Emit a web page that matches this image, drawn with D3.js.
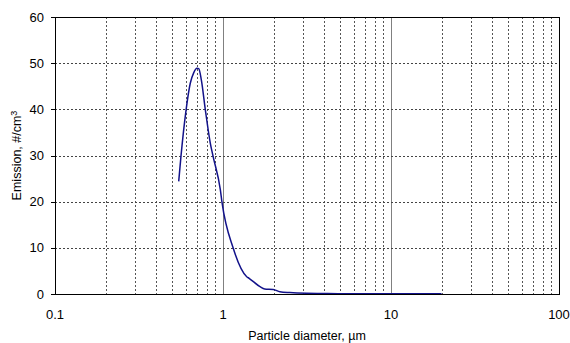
<!DOCTYPE html>
<html lang="en">
<head>
    <meta charset="UTF-8">
    <title>Emission vs particle diameter</title>
    <script src="https://d3js.org/d3.v7.min.js"></script>
    <style>
        body { margin: 0; background: #fff; }
        text { font-family: "Liberation Sans", Arial, sans-serif; fill: #000; }
        .tick-label { font-size: 13px; }
        .axis-title { font-size: 12.5px; }
    </style>
</head>
<body>
<div id="chart"></div>
<script>
    // data
    const diameter = [0.545, 0.562, 0.603, 0.639, 0.669, 0.70, 0.717, 0.743, 0.785, 0.840, 0.873, 0.964, 0.986,
        1.151, 1.384, 1.43, 1.66, 1.77, 1.99, 2.18, 2.50, 3.15, 4.2, 6.0, 10, 20];
    const emission = [24.4, 29.8, 39.9, 45.7, 47.9, 48.9, 48.8, 46.4, 39.9, 32.7, 29.8, 22.6, 19.9,
        9.9, 3.75, 3.4, 1.6, 1.1, 1.0, 0.5, 0.3, 0.15, 0.1, 0.06, 0.05, 0.05];
    const yTicks = [0, 10, 20, 30, 40, 50, 60];
    const xTicks = [0.1, 1, 10, 100];

    const W = 570, H = 343;
    const margin = { top: 17, right: 11, bottom: 49, left: 55 };
    const width = W - margin.left - margin.right;
    const height = H - margin.top - margin.bottom;

    const svg = d3.select("#chart").append("svg")
        .attr("width", W).attr("height", H);
    const g = svg.append("g").attr("transform", `translate(${margin.left},${margin.top})`);

    const x = d3.scaleLog().domain([0.1, 100]).range([0, width]);
    const y = d3.scaleLinear().domain([0, 60]).range([height, 0]);

    // minor vertical grid (dashed)
    const minor = [];
    for (let dec = 0.1; dec < 100; dec *= 10) {
        for (let k = 2; k <= 9; k++) minor.push(+(dec * k).toPrecision(3));
    }
    g.selectAll(".vminor").data(minor).enter().append("line")
        .attr("x1", d => Math.round(x(d)) + 0.5).attr("x2", d => Math.round(x(d)) + 0.5)
        .attr("y1", 0).attr("y2", height)
        .attr("stroke", "#555").attr("stroke-width", 1)
        .attr("stroke-dasharray", "2,2");

    // major vertical grid (solid grey)
    g.selectAll(".vmajor").data([1, 10]).enter().append("line")
        .attr("x1", d => Math.round(x(d)) + 0.5).attr("x2", d => Math.round(x(d)) + 0.5)
        .attr("y1", 0).attr("y2", height)
        .attr("stroke", "#808080").attr("stroke-width", 1);

    // horizontal grid
    g.selectAll(".hgrid").data(yTicks.slice(1, -1)).enter().append("line")
        .attr("x1", 0).attr("x2", width)
        .attr("y1", d => Math.round(y(d)) + 0.5).attr("y2", d => Math.round(y(d)) + 0.5)
        .attr("stroke", "#444").attr("stroke-width", 1)
        .attr("stroke-dasharray", "2,2");

    // curve
    const pts = diameter.map((d, i) => [d, emission[i]]);
    g.append("path")
        .datum(pts)
        .attr("fill", "none")
        .attr("stroke", "#12128a")
        .attr("stroke-width", 1.5)
        .attr("d", d3.line().x(d => x(d[0])).y(d => y(d[1])).curve(d3.curveMonotoneX));

    // frame
    g.append("rect")
        .attr("x", 0.5).attr("y", 0.5)
        .attr("width", width).attr("height", height)
        .attr("fill", "none").attr("stroke", "#000").attr("stroke-width", 1);

    // y ticks
    g.selectAll(".ytick").data(yTicks).enter().append("line")
        .attr("x1", -4).attr("x2", 0)
        .attr("y1", d => Math.round(y(d)) + 0.5).attr("y2", d => Math.round(y(d)) + 0.5)
        .attr("stroke", "#000");
    g.selectAll(".ylab").data(yTicks).enter().append("text")
        .attr("class", "tick-label")
        .attr("x", -11).attr("y", d => y(d)).attr("dy", "0.35em")
        .attr("text-anchor", "end")
        .text(d => d);

    // x labels
    g.selectAll(".xlab").data(xTicks).enter().append("text")
        .attr("class", "tick-label")
        .attr("x", d => x(d)).attr("y", height + 25)
        .attr("text-anchor", "middle")
        .text(d => d);

    // axis titles
    g.append("text")
        .attr("class", "axis-title")
        .attr("x", width / 2).attr("y", height + 46)
        .attr("text-anchor", "middle")
        .text("Particle diameter, \u00b5m");

    const yt = g.append("text")
        .attr("class", "axis-title")
        .attr("transform", `translate(${-34},${height / 2}) rotate(-90)`)
        .attr("text-anchor", "middle");
    yt.append("tspan").text("Emission, #/cm");
    yt.append("tspan").attr("dy", "-0.45em").style("font-size", "9px").text("3");
</script>
</body>
</html>
